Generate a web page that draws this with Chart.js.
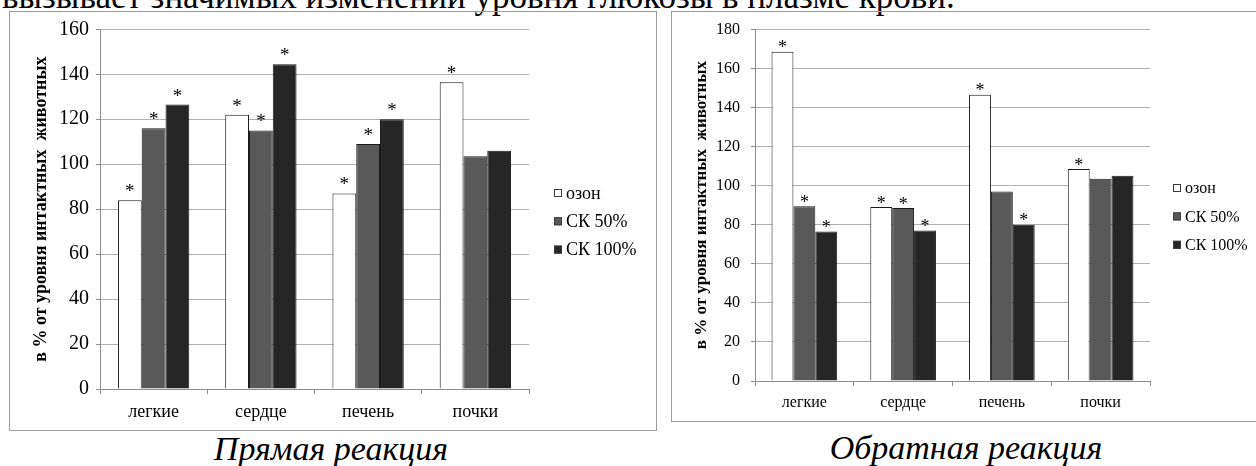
<!DOCTYPE html>
<html>
<head>
<meta charset="utf-8">
<script src="https://cdn.jsdelivr.net/npm/chart.js@4.4.1/dist/chart.umd.min.js"></script>
<style>
  html, body { margin: 0; padding: 0; background: #fff; }
  body { width: 1256px; height: 466px; overflow: hidden; position: relative;
         font-family: 'Liberation Serif', 'Times New Roman', serif; }
  .frame { position: absolute; border: 1.5px solid #9c9c9c; box-sizing: border-box; }
  canvas { position: absolute; }
  .txt { position: absolute; white-space: nowrap; color: #000; }
  .lead { font-size: 35px; line-height: 35px; }
  .cap { font-size: 34px; line-height: 34px; font-style: italic; transform: translateX(-50%); }
</style>
</head>
<body>
<div class="txt lead" style="left:2px; top:-21px">вызывает значимых изменений уровня глюкозы в плазме крови.</div>

<div class="frame" style="left:9px; top:11px; width:648px; height:420px"></div>
<div class="frame" style="left:671px; top:11px; width:600px; height:411px"></div>
<canvas id="direct" width="646" height="418" style="left:10px; top:12px"></canvas>
<canvas id="reverse" width="590" height="409" style="left:672px; top:12px"></canvas>

<div class="txt cap" style="left:331px; top:432px">Прямая реакция</div>
<div class="txt cap" style="left:966px; top:431px">Обратная реакция</div>

<script>
// Organs on the category axis and the three treatment groups
const categories = ['легкие', 'сердце', 'печень', 'почки'];
const seriesNames = ['озон', 'СК 50%', 'СК 100%'];
const axisTitle = 'в % от уровня интактных  животных';

// Direct reaction, % of intact animals
const directOzone = [84, 122, 87, 136.5];
const directSk50  = [116, 115, 109, 103.5];
const directSk100 = [126.5, 144.5, 120, 106];
// significance marks (*) per bar
const directOzoneSig = [1, 1, 1, 1];
const directSk50Sig  = [1, 1, 1, 0];
const directSk100Sig = [1, 1, 1, 0];

// Reverse reaction, % of intact animals
const reverseOzone = [168.5, 89, 146.5, 108.5];
const reverseSk50  = [89.5, 88.5, 97, 103.5];
const reverseSk100 = [76.5, 77, 80, 105];
const reverseOzoneSig = [1, 1, 1, 1];
const reverseSk50Sig  = [1, 1, 0, 0];
const reverseSk100Sig = [1, 1, 1, 0];

const FONT = "'Liberation Serif', 'Times New Roman', serif";
const fills = ['#ffffff', '#595959', '#262626'];

// Asterisks above significant bars
const starPlugin = {
  id: 'stars',
  afterDatasetsDraw(chart, args, opts) {
    const ctx = chart.ctx;
    ctx.save();
    ctx.font = opts.size + 'px ' + FONT;
    ctx.fillStyle = '#000';
    ctx.textAlign = 'center';
    ctx.textBaseline = 'alphabetic';
    chart.data.datasets.forEach((ds, i) => {
      const meta = chart.getDatasetMeta(i);
      meta.data.forEach((bar, j) => {
        if (ds.sig[j]) ctx.fillText('*', bar.x, bar.y - opts.lift);
      });
    });
    ctx.restore();
  }
};

// Legend drawn as a vertical list to the right of the plot
const sideLegend = {
  id: 'sideLegend',
  afterDraw(chart, args, opts) {
    const ctx = chart.ctx;
    ctx.save();
    ctx.font = opts.size + 'px ' + FONT;
    ctx.textBaseline = 'middle';
    ctx.textAlign = 'left';
    chart.data.datasets.forEach((ds, i) => {
      const y = opts.y + i * opts.step;
      ctx.fillStyle = ds.backgroundColor;
      ctx.fillRect(opts.x, y - 4, 8, 8);
      ctx.strokeStyle = '#3a3a3a';
      ctx.lineWidth = 1;
      ctx.strokeRect(opts.x + 0.5, y - 3.5, 7, 7);
      ctx.fillStyle = '#000';
      ctx.fillText(ds.label, opts.x + 12, y + 1);
    });
    ctx.restore();
  }
};

function buildChart(id, series, sigs, cfg) {
  return new Chart(document.getElementById(id), {
    type: 'bar',
    data: {
      labels: categories,
      datasets: series.map((vals, i) => ({
        label: seriesNames[i],
        data: vals,
        sig: sigs[i],
        backgroundColor: fills[i],
        borderColor: '#1a1a1a',
        borderWidth: 1,
        barPercentage: 1,
        categoryPercentage: 0.665
      }))
    },
    options: {
      responsive: false,
      animation: false,
      devicePixelRatio: 1,
      layout: { padding: { left: cfg.padLeft, right: cfg.padRight, top: cfg.padTop, bottom: 0 } },
      plugins: {
        legend: { display: false },
        tooltip: { enabled: false },
        stars: { size: cfg.starSize, lift: cfg.starLift },
        sideLegend: { x: cfg.legX, y: cfg.legY, step: cfg.legStep, size: cfg.legSize }
      },
      scales: {
        x: {
          grid: { drawOnChartArea: false, drawTicks: true, tickLength: 5, color: '#8c8c8c', offset: true },
          border: { color: '#8c8c8c', width: 1 },
          ticks: { font: { family: FONT, size: cfg.catSize }, color: '#000', padding: cfg.catPad, maxRotation: 0 },
          afterFit: s => { s.height = cfg.xHeight; s.paddingLeft = 0; s.paddingRight = 0; }
        },
        y: {
          min: 0,
          max: cfg.max,
          ticks: { stepSize: 20, font: { family: FONT, size: cfg.tickSize }, color: '#000', padding: cfg.tickPad },
          grid: { color: '#b0b0b0', lineWidth: 1, tickLength: 4, tickColor: '#8c8c8c' },
          border: { color: '#8c8c8c', width: 1 },
          title: {
            display: true,
            text: axisTitle,
            color: '#000',
            font: { family: FONT, size: cfg.titleSize, weight: 'bold' },
            padding: { top: 4, bottom: 4 }
          },
          afterFit: s => { s.width = cfg.yWidth; s.paddingTop = 0; s.paddingBottom = 0; }
        }
      }
    },
    plugins: [starPlugin, sideLegend]
  });
}

buildChart('direct',
  [directOzone, directSk50, directSk100],
  [directOzoneSig, directSk50Sig, directSk100Sig],
  { max: 160, padLeft: 17, padRight: 127, padTop: 17.3, yWidth: 73, xHeight: 41,
    tickSize: 20, tickPad: 7, catSize: 18, catPad: 7, titleSize: 18, starSize: 19, starLift: 3,
    legX: 544, legY: 181, legStep: 28.3, legSize: 18 });

buildChart('reverse',
  [reverseOzone, reverseSk50, reverseSk100],
  [reverseOzoneSig, reverseSk50Sig, reverseSk100Sig],
  { max: 180, padLeft: 15, padRight: 112, padTop: 17.3, yWidth: 68, xHeight: 40,
    tickSize: 16, tickPad: 11, catSize: 16, catPad: 7, titleSize: 17, starSize: 18, starLift: -1.5,
    legX: 501, legY: 176, legStep: 28.4, legSize: 16 });
</script>
</body>
</html>
